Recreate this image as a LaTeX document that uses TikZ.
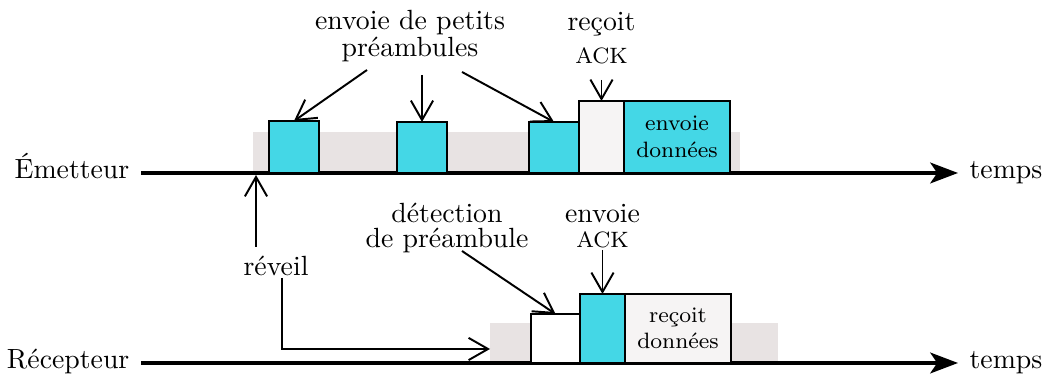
\documentclass[tikz,border=0pt]{standalone}
\usepackage{tikz}
\usetikzlibrary{arrows.meta}
\usetikzlibrary{calc}
\definecolor{pktcyan}{RGB}{68,215,230}
\definecolor{sleepgray}{RGB}{232,227,227}
\definecolor{pktlight}{RGB}{246,244,244}

\tikzset{
  slot/.style 2 args={minimum width=#1*0.36pt, minimum height=#2*0.36pt, anchor=south west},
  band/.style={fill=sleepgray, inner sep=0pt, outer sep=0pt},
  pkt/.style={draw, line width=0.9pt, fill=pktcyan, inner sep=0pt, outer sep=0pt},
  ctl/.style={pkt, fill=pktlight},
  idle/.style={pkt, fill=white},
  axis/.style={line width=1.1pt, -{Stealth[length=10pt,width=7.5pt,inset=2.5pt]}},
  ann/.style={line width=0.7pt, -{Straight Barb[length=7pt,width=8pt]}},
  axlabel/.style={inner xsep=4pt, inner ysep=0pt},
}

\begin{document}
\begin{tikzpicture}[x=0.36pt, y=-0.36pt]
  \useasboundingbox (0,0) rectangle (1050,376);

  % awake periods
  \node[band, slot={487}{41}] (bandE) at (253,173) {};
  \node[band, slot={288}{40}] (bandR) at (490,363) {};

  % time axes
  \node[axlabel, anchor=mid east] (em) at (141,173) {Émetteur};
  \node[axlabel, anchor=mid west] (tE) at (958,173) {temps};
  \node[axlabel, anchor=mid east] (rc) at (141,363) {Récepteur};
  \node[axlabel, anchor=mid west] (tR) at (958,363) {temps};
  \draw[axis] (em.mid east) -- (tE.mid west);
  \draw[axis] (rc.mid east) -- (tR.mid west);

  % emitter side
  \foreach \n/\x/\h in {1/269/52,2/397/51,3/529/51}
    \node[pkt, slot={50}{\h}] (p\n) at (\x,173) {};
  \node[ctl, slot={45}{72}] (ackE) at (579,173) {};
  \node[pkt, slot={106}{72}, font=\footnotesize, align=center] (data) at (624,173) {envoie\\données};

  % receiver side
  \node[idle, slot={49}{49}] (det) at (531,363) {};
  \node[pkt, slot={45}{69}] (ackR) at (580,363) {};
  \node[ctl, slot={106}{69}, font=\footnotesize, align=center] (rx) at (625,363) {reçoit\\données};

  % labels
  \node[align=center] (pre) at (410,36) {envoie de petits\\[-2pt]préambules};
  \node[align=center] (gotack) at (601.5,38) {reçoit\\{\footnotesize ACK}};
  \node (wake) at (276,266) {réveil};
  \node[align=center] (detlbl) at (447,228) {détection\\[-3pt]de préambule};
  \node[align=center] (sendack) at (602.5,226) {envoie\\[-3pt]{\footnotesize ACK}};

  % pointers
  \draw[ann] ($(pre)+(-43,34)$) -- (p1.north);
  \draw[ann] ($(pre)+(12,39)$) -- (p2.north);
  \draw[ann] ($(pre)+(52,36)$) -- (p3.north);
  \draw[ann] ($(gotack)+(0,42)$) -- (ackE.north);
  \draw[ann] ($(wake)+(-20,-19)$) -- ($(bandE.south west)+(3,2)$);
  \draw[ann] ($(wake)+(6,12)$) |- ($(bandR.west)+(0,6)$);
  \draw[ann] ($(detlbl)+(15,23)$) -- (det.north);
  \draw[ann] ($(sendack)+(0,24)$) -- (ackR.north);
\end{tikzpicture}
\end{document}
